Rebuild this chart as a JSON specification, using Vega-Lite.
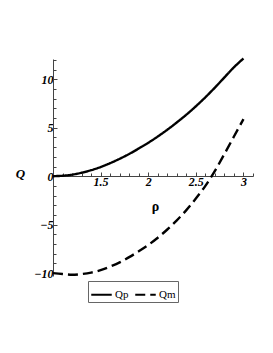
{
  "$schema": "https://vega.github.io/schema/vega-lite/v6.json",
  "width": 200,
  "height": 217,
  "autosize": {"type": "none"},
  "padding": {"left": 53, "top": 59, "right": 20, "bottom": 77},
  "background": "white",
  "config": {"view": {"stroke": null}},
  "data": {"values": [
    {"rho": 1.0, "Q": 0, "s": "Qp"},
    {"rho": 1.1, "Q": 0.05, "s": "Qp"},
    {"rho": 1.2, "Q": 0.16, "s": "Qp"},
    {"rho": 1.3, "Q": 0.36, "s": "Qp"},
    {"rho": 1.4, "Q": 0.62, "s": "Qp"},
    {"rho": 1.5, "Q": 0.95, "s": "Qp"},
    {"rho": 1.6, "Q": 1.35, "s": "Qp"},
    {"rho": 1.7, "Q": 1.8, "s": "Qp"},
    {"rho": 1.8, "Q": 2.3, "s": "Qp"},
    {"rho": 1.9, "Q": 2.86, "s": "Qp"},
    {"rho": 2.0, "Q": 3.45, "s": "Qp"},
    {"rho": 2.1, "Q": 4.1, "s": "Qp"},
    {"rho": 2.2, "Q": 4.8, "s": "Qp"},
    {"rho": 2.3, "Q": 5.55, "s": "Qp"},
    {"rho": 2.4, "Q": 6.35, "s": "Qp"},
    {"rho": 2.5, "Q": 7.22, "s": "Qp"},
    {"rho": 2.6, "Q": 8.15, "s": "Qp"},
    {"rho": 2.7, "Q": 9.15, "s": "Qp"},
    {"rho": 2.8, "Q": 10.2, "s": "Qp"},
    {"rho": 2.9, "Q": 11.25, "s": "Qp"},
    {"rho": 3.0, "Q": 12.15, "s": "Qp"},
    {"rho": 1.0, "Q": -10, "s": "Qm"},
    {"rho": 1.1, "Q": -10.1, "s": "Qm"},
    {"rho": 1.2, "Q": -10.17, "s": "Qm"},
    {"rho": 1.3, "Q": -10.1, "s": "Qm"},
    {"rho": 1.4, "Q": -9.95, "s": "Qm"},
    {"rho": 1.5, "Q": -9.7, "s": "Qm"},
    {"rho": 1.6, "Q": -9.33, "s": "Qm"},
    {"rho": 1.7, "Q": -8.9, "s": "Qm"},
    {"rho": 1.8, "Q": -8.35, "s": "Qm"},
    {"rho": 1.9, "Q": -7.75, "s": "Qm"},
    {"rho": 2.0, "Q": -7.1, "s": "Qm"},
    {"rho": 2.1, "Q": -6.35, "s": "Qm"},
    {"rho": 2.2, "Q": -5.5, "s": "Qm"},
    {"rho": 2.3, "Q": -4.55, "s": "Qm"},
    {"rho": 2.4, "Q": -3.5, "s": "Qm"},
    {"rho": 2.5, "Q": -2.3, "s": "Qm"},
    {"rho": 2.6, "Q": -1.0, "s": "Qm"},
    {"rho": 2.7, "Q": 0.55, "s": "Qm"},
    {"rho": 2.8, "Q": 2.3, "s": "Qm"},
    {"rho": 2.9, "Q": 4.1, "s": "Qm"},
    {"rho": 3.0, "Q": 5.9, "s": "Qm"}
  ]},
  "mark": {"type": "line", "color": "black", "strokeWidth": 2.4, "interpolate": "catmull-rom", "clip": false},
  "encoding": {
    "x": {
      "field": "rho", "type": "quantitative",
      "scale": {"domain": [1, 3.1], "nice": false, "zero": false},
      "axis": {
        "title": "ρ", "offset": -100, "grid": false, "format": ".1~f",
        "values": [1.1,1.2,1.3,1.4,1.5,1.6,1.7,1.8,1.9,2,2.1,2.2,2.3,2.4,2.5,2.6,2.7,2.8,2.9,3,3.1],
        "labelExpr": "abs(datum.value*2 - round(datum.value*2)) < 0.001 ? datum.label : ''",
        "tickSize": {"condition": {"test": "abs(datum.value*2 - round(datum.value*2)) < 0.001", "value": -4}, "value": -3},
        "tickColor": "#444", "domainColor": "#444", "domainWidth": 1, "tickWidth": 1,
        "labelFont": "Liberation Serif", "labelFontStyle": "italic", "labelFontWeight": "bold", "labelFontSize": 12,
        "labelColor": "black", "labelPadding": 4, "labelFlush": false, "labelOverlap": false,
        "titleFont": "Liberation Serif", "titleFontWeight": "bold", "titleFontSize": 14, "titleColor": "black",
        "titleX": 102, "titleY": 23
      }
    },
    "y": {
      "field": "Q", "type": "quantitative",
      "scale": {"domain": [-10.3, 12.1], "nice": false, "zero": false},
      "axis": {
        "title": "Q", "grid": false,
        "values": [-10,-9,-8,-7,-6,-5,-4,-3,-2,-1,0,1,2,3,4,5,6,7,8,9,10,11,12],
        "labelExpr": "datum.value % 5 === 0 ? datum.label : ''",
        "tickSize": {"condition": {"test": "datum.value % 5 === 0", "value": -4}, "value": -3},
        "tickColor": "#444", "domainColor": "#444", "domainWidth": 1, "tickWidth": 1,
        "labelFont": "Liberation Serif", "labelFontStyle": "italic", "labelFontWeight": "bold", "labelFontSize": 12,
        "labelColor": "black", "labelPadding": 4, "labelOverlap": false, "labelFlush": false,
        "titleFont": "Liberation Serif", "titleFontStyle": "italic", "titleFontWeight": "bold", "titleFontSize": 13, "titleColor": "black",
        "titleAngle": 0, "titleX": -33, "titleY": 121, "titleAlign": "center"
      }
    },
    "strokeDash": {
      "field": "s", "type": "nominal",
      "scale": {"domain": ["Qp", "Qm"], "range": [[1, 0], [10, 5]]},
      "legend": {
        "title": null, "orient": "none", "direction": "horizontal",
        "legendX": 35, "legendY": 222,
        "strokeColor": "#666", "padding": 2, "fillColor": "white",
        "symbolType": "stroke", "symbolSize": 420, "symbolStrokeWidth": 2, "symbolStrokeColor": "black",
        "labelFont": "Liberation Serif", "labelFontSize": 11, "labelColor": "black",
        "columnPadding": 2, "symbolOffset": 0, "labelOffset": 2
      }
    }
  }
}
